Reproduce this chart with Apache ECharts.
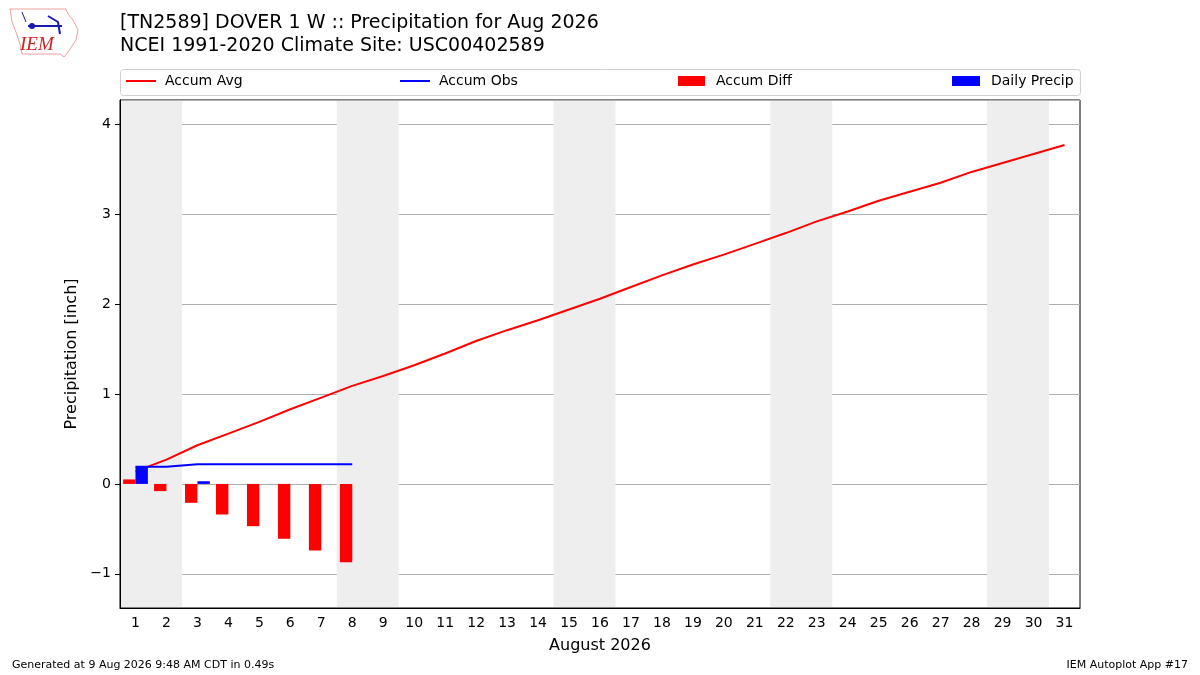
<!DOCTYPE html>
<html>
<head>
<meta charset="utf-8">
<script src="https://cdn.jsdelivr.net/npm/echarts@6/dist/echarts.min.js"></script>
<style>
  html, body { margin: 0; padding: 0; background: #fff; }
  #chart { width: 1200px; height: 675px; }
</style>
</head>
<body>
<div id="chart"></div>
<script>
let chart = echarts.init(document.getElementById('chart'));

// data
const days = ['1','2','3','4','5','6','7','8','9','10','11','12','13','14','15','16',
    '17','18','19','20','21','22','23','24','25','26','27','28','29','30','31'];
const accumAvg = [0.14, 0.27, 0.43, 0.56, 0.69, 0.83, 0.96, 1.09, 1.20, 1.32, 1.45,
    1.59, 1.71, 1.82, 1.94, 2.06, 2.19, 2.32, 2.44, 2.55, 2.67, 2.79, 2.92, 3.03,
    3.15, 3.25, 3.35, 3.47, 3.57, 3.67, 3.77];
const accumObs = [0.19, 0.19, 0.22, 0.22, 0.22, 0.22, 0.22, 0.22];
const accumDiff = [0.05, -0.08, -0.21, -0.34, -0.47, -0.61, -0.74, -0.87];
const dailyPrecip = [0.19, 0, 0.03, 0, 0, 0, 0, 0];
// weekend bands (start, end) in day units
const weekendStart = [0.5, 7.5, 14.5, 21.5, 28.5];
const weekendEnd = [2.5, 9.5, 16.5, 23.5, 30.5];

const fontFam = 'DejaVu Sans';

function legendText(pad) {
    return {fontSize: 14, fontFamily: fontFam, color: '#000', padding: [0, 0, 0, pad]};
}

let option = {
    animation: false,
    textStyle: {fontFamily: fontFam},
    grid: {
        left: 120, right: 120, top: 100, bottom: 67,
        show: true, borderColor: '#000', borderWidth: 1, containLabel: false
    },
    graphic: [
        // legend frame
        {type: 'rect', left: 120, top: 69, z: -1,
            shape: {width: 960, height: 26, r: 3},
            style: {fill: '#fff', stroke: '#d0d0d0', lineWidth: 1}},
        // titles
        {type: 'text', left: 120, top: 14,
            style: {text: '[TN2589] DOVER 1 W :: Precipitation for Aug 2026', fontSize: 19, fontFamily: fontFam, fill: '#000'}},
        {type: 'text', left: 120, top: 37,
            style: {text: 'NCEI 1991-2020 Climate Site: USC00402589', fontSize: 19, fontFamily: fontFam, fill: '#000'}},
        // footer
        {type: 'text', left: 12, top: 660,
            style: {text: 'Generated at 9 Aug 2026 9:48 AM CDT in 0.49s', fontSize: 11, fontFamily: fontFam, fill: '#000'}},
        {type: 'text', right: 12, top: 660,
            style: {text: 'IEM Autoplot App #17', fontSize: 11, fontFamily: fontFam, fill: '#000'}},
        // logo (rough)
        {type: 'polyline', shape: {points: [[10, 9], [66, 9], [68, 14], [73, 20], [78, 30], [76, 40], [72, 46], [68, 52], [64, 57], [60, 54], [22, 54], [20, 44], [16, 32], [12, 22], [10, 9]]},
            style: {fill: 'none', stroke: '#f0a0a0', lineWidth: 1}},
        {type: 'polyline', shape: {points: [[28, 26], [62, 26]]}, style: {stroke: '#1a1ab0', lineWidth: 2}},
        {type: 'polyline', shape: {points: [[48, 16], [58, 22], [60, 34]]}, style: {fill: 'none', stroke: '#1a1ab0', lineWidth: 2}},
        {type: 'polyline', shape: {points: [[22, 12], [26, 22]]}, style: {fill: 'none', stroke: '#1a1ab0', lineWidth: 1}},
        {type: 'circle', shape: {cx: 32, cy: 26, r: 3}, style: {fill: '#1a1ab0'}},
        {type: 'text', left: 20, top: 35,
            style: {text: 'IEM', fontSize: 19, fontFamily: 'Liberation Serif', fontStyle: 'italic', fill: '#d02020'}}
    ],
    legend: [
        {data: ['Accum Avg'], left: 126, top: 74, padding: 0, icon: 'rect', itemWidth: 30, itemHeight: 2,
            textStyle: legendText(4)},
        {data: ['Accum Obs'], left: 400, top: 74, padding: 0, icon: 'rect', itemWidth: 30, itemHeight: 2,
            textStyle: legendText(4)},
        {data: ['Accum Diff'], left: 678, top: 74, padding: 0, icon: 'rect', itemWidth: 27, itemHeight: 10,
            textStyle: legendText(6)},
        {data: ['Daily Precip'], left: 952, top: 74, padding: 0, icon: 'rect', itemWidth: 28, itemHeight: 10,
            textStyle: legendText(6)}
    ],
    xAxis: [
        {
            type: 'category',
            data: days,
            boundaryGap: true,
            name: 'August 2026',
            nameLocation: 'middle',
            nameGap: 30,
            nameTextStyle: {fontSize: 16, fontFamily: fontFam, color: '#000'},
            axisLine: {onZero: false, lineStyle: {color: '#000'}},
            axisTick: {alignWithLabel: true, length: 5, lineStyle: {color: '#000'}},
            axisLabel: {fontSize: 14, color: '#000', margin: 8, interval: 0},
            splitLine: {show: false}
        },
        {
            type: 'value', min: 0.5, max: 31.5, show: false
        }
    ],
    yAxis: {
        type: 'value',
        min: -1.38,
        max: 4.27,
        splitNumber: 5,
        name: 'Precipitation [inch]',
        nameLocation: 'middle',
        nameGap: 40,
        nameTextStyle: {fontSize: 16, fontFamily: fontFam, color: '#000'},
        axisLine: {show: true, onZero: false, lineStyle: {color: '#000'}},
        axisTick: {show: true, length: 5, lineStyle: {color: '#000'}},
        axisLabel: {
            fontSize: 14, color: '#000', margin: 9, showMinLabel: false, showMaxLabel: false,
            formatter: v => (Math.abs(v - Math.round(v)) > 1e-6 ? '' : String(Math.round(v)).replace('-', '\u2212'))
        },
        splitLine: {show: true, lineStyle: {color: '#b0b0b0', width: 1}}
    },
    series: [
        {
            name: 'weekend',
            type: 'custom',
            xAxisIndex: 1,
            silent: true,
            z: 0,
            data: weekendStart.map((s, i) => [s, weekendEnd[i]]),
            renderItem: function (params, api) {
                let p0 = api.coord([api.value(0), 0]);
                let p1 = api.coord([api.value(1), 0]);
                let cs = params.coordSys;
                return {
                    type: 'rect',
                    shape: {x: p0[0], y: cs.y + 1, width: p1[0] - p0[0], height: cs.height - 2},
                    style: {fill: '#eeeeee'}
                };
            }
        },
        {
            name: 'Accum Avg', type: 'line', data: accumAvg, showSymbol: false, z: 3,
            itemStyle: {color: '#ff0000'}, lineStyle: {color: '#ff0000', width: 2}
        },
        {
            name: 'Accum Obs', type: 'line', data: accumObs, showSymbol: false, z: 5,
            itemStyle: {color: '#0000ff'}, lineStyle: {color: '#0000ff', width: 2}
        },
        {
            name: 'Accum Diff', type: 'bar', data: accumDiff, barWidth: '40%', barGap: '0%', z: 4,
            itemStyle: {color: '#ff0000'}
        },
        {
            name: 'Daily Precip', type: 'bar', data: dailyPrecip, barWidth: '40%', barGap: '0%', z: 4,
            itemStyle: {color: '#0000ff'}
        }
    ]
};

chart.setOption(option);
</script>
</body>
</html>
